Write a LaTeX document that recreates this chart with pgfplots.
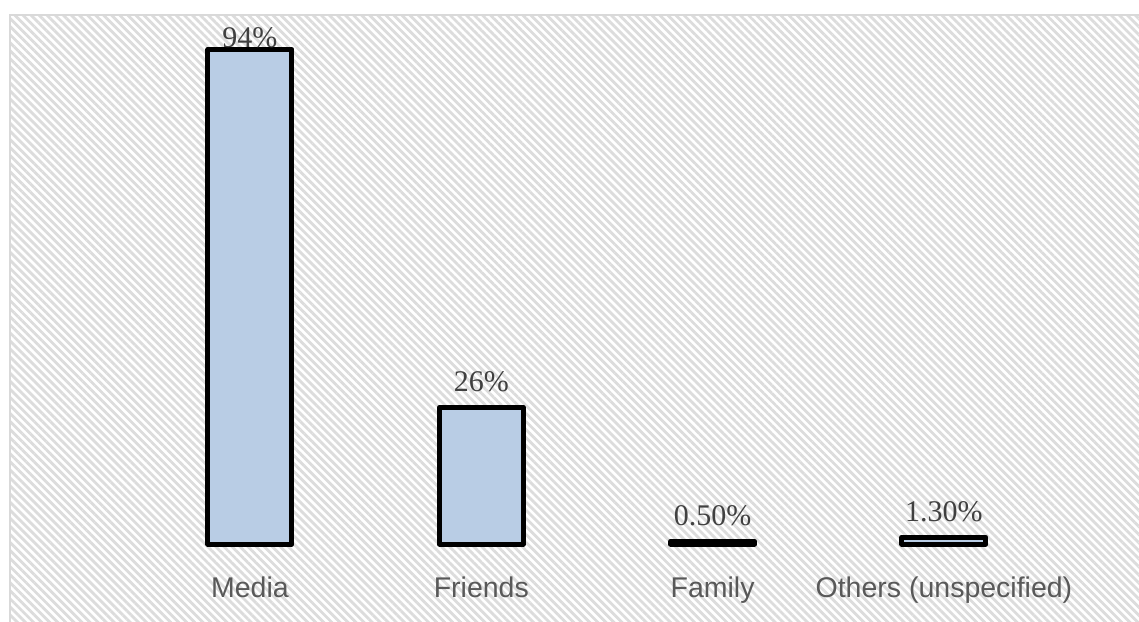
\documentclass[border=0pt]{standalone}
\usepackage{fontspec}
\setmainfont{Liberation Serif}
\newfontfamily\arialfont{Liberation Sans}
\usepackage{pgfplots}
\pgfplotsset{compat=1.18}
\usetikzlibrary{patterns.meta}
\definecolor{barfill}{HTML}{B9CDE5}
\definecolor{valtext}{HTML}{404040}
\definecolor{cattext}{HTML}{595959}
\definecolor{framecol}{HTML}{D9D9D9}
\definecolor{stripe}{HTML}{DCDCDC}
\begin{document}
\begin{tikzpicture}
\path[use as bounding box] (0pt,0pt) rectangle (1139pt,621pt);
\fill[white] (10pt,-2pt) rectangle (1141pt,606pt);
\fill[pattern={Lines[angle=-45,distance=5.7pt,line width=2.8pt]},pattern color=stripe] (10pt,-2pt) rectangle (1141pt,606pt);
\draw[framecol,line width=2pt] (10pt,-2pt) -- (10pt,606pt) -- (1141pt,606pt);
\begin{axis}[
  at={(134.3pt,77pt)}, anchor=south west,
  scale only axis, width=925.3pt, height=526pt,
  xmin=-0.5, xmax=3.5, ymin=0, ymax=100,
  axis lines=left, axis line style={draw=none},
  ytick=\empty, xtick=data, major tick length=0pt,
  xticklabels={Media,Friends,Family,Others (unspecified)},
  xticklabel style={anchor=base, yshift=-53pt, font=\arialfont\fontsize{28.5}{34}\selectfont, text=cattext},
  ybar, bar width=84pt, clip=false,
  point meta=explicit symbolic,
  nodes near coords,
  every node near coord/.append style={anchor=base, inner sep=0pt, yshift=16pt, font=\fontsize{30}{36}\selectfont, text=valtext},
]
\addplot[fill=barfill, draw=black, line width=5pt, line join=round, bar shift=0pt]
  coordinates {(0,94) [{}] (1,26) [26\%] (2,0.5) [0.50\%] (3,1.3) [1.30\%]};
\addplot[draw=none, fill=none, bar shift=0pt, every node near coord/.append style={yshift=-14pt}]
  coordinates {(0,94) [94\%]};
\end{axis}
\end{tikzpicture}
\end{document}
